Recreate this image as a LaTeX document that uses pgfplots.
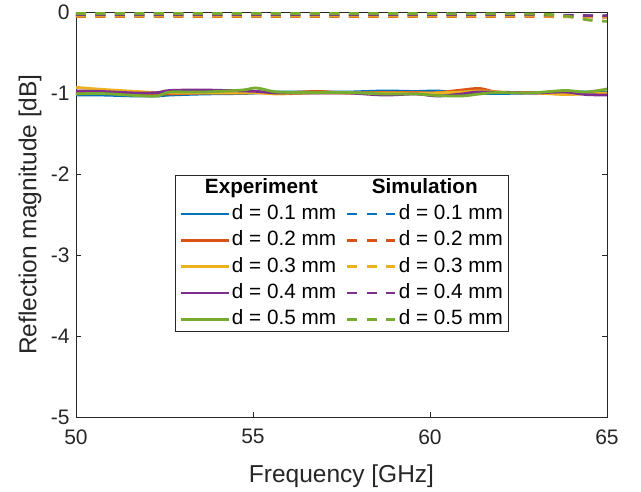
\documentclass[border=0pt]{standalone}
\usepackage{pgfplots}
\pgfplotsset{compat=1.18}
\usepackage{fontspec}
\setmainfont{Liberation Sans}
\definecolor{mblue}{rgb}{0,0.447,0.741}
\definecolor{morange}{rgb}{0.85,0.325,0.098}
\definecolor{myellow}{rgb}{0.929,0.694,0.125}
\definecolor{mpurple}{rgb}{0.494,0.184,0.556}
\definecolor{mgreen}{rgb}{0.466,0.674,0.188}
\definecolor{axgray}{rgb}{0.15,0.15,0.15}
\begin{document}
\begin{tikzpicture}
\useasboundingbox (-76pt,-74pt) rectangle (565pt,417pt);
\begin{axis}[
  at={(0,0)}, anchor=south west,
  scale only axis, width=531pt, height=405pt,
  xmin=50, xmax=65, ymin=-5, ymax=0,
  xtick={50,55,60,65}, ytick={-5,-4,-3,-2,-1,0},
  tick align=inside, major tick length=5pt,
  axis line style={axgray, line width=0.8pt},
  every tick/.style={axgray, line width=0.8pt},
  tick label style={font=\fontsize{21}{25}\selectfont, text=axgray},
  xticklabel style={yshift=-9pt},
  yticklabel style={xshift=-3pt},
  /pgf/number format/assume math mode=true,
  xlabel={Frequency [GHz]}, ylabel={Reflection magnitude [dB]},
  label style={font=\fontsize{24.5}{29}\selectfont, text=axgray},
  xlabel style={at={(axis description cs:0.5,-0.145)}, anchor=center},
  ylabel style={at={(axis description cs:-0.0866,0.5)}, anchor=center},
  legend columns=2,
  legend cell align=left,
  legend image code/.code={\path (0pt,0pt); \draw[#1] (1pt,0pt) -- (49pt,0pt);},
  legend style={at={(rel axis cs:0.186,0.598)}, anchor=north west,
    draw=axgray, line width=0.8pt, fill=white,
    font=\fontsize{20.7}{25}\selectfont, text=black,
    inner xsep=3pt, inner ysep=2pt,
    nodes={inner xsep=2pt, inner ysep=0pt, text height=16pt, text depth=5pt},
    row sep=5.3pt,
    /tikz/every even column/.append style={column sep=7pt}},
  every axis plot/.append style={line width=2.8pt, smooth, tension=0.5},
  sim/.style={dash pattern=on 10pt off 9.5pt},
]
\addlegendimage{empty legend}
\addlegendimage{empty legend}
% d = 0.1
\addplot[mblue] coordinates {(50,-1.025) (50.7,-1.025) (51.7,-1.037) (52.3,-1.037) (52.65,-1.025) (53.6,-1.012) (54.7,-1.006) (55.1,-1.0) (55.7,-0.988) (56.8,-0.988) (57.7,-0.988) (58.7,-0.975) (59.6,-0.981) (60.2,-0.975) (60.9,-1.0) (61.9,-1.006) (62.8,-1.0) (63.8,-0.995) (64.4,-0.988) (65,-0.994)};
\addplot[mblue, sim] coordinates {(50,-0.04) (52,-0.04) (54,-0.04) (56,-0.04) (58,-0.04) (60,-0.04) (62,-0.04) (63,-0.04) (64,-0.045) (65,-0.05)};
% d = 0.2
\addplot[morange] coordinates {(50,-1.0) (51,-1.005) (52,-1.015) (52.65,-1.012) (53.6,-1.0) (54.7,-1.0) (55.1,-0.988) (55.7,-1.0) (56.8,-0.981) (57.7,-1.0) (58.7,-0.994) (59.6,-0.994) (60.1,-1.0) (60.9,-0.963) (61.4,-0.944) (61.9,-0.988) (62.8,-0.995) (63.8,-1.012) (64.4,-1.006) (65,-1.012)};
\addplot[morange, sim] coordinates {(50,-0.055) (52,-0.055) (54,-0.055) (56,-0.055) (58,-0.055) (60,-0.055) (62,-0.055) (63,-0.055) (64,-0.06) (65,-0.065)};
% d = 0.3
\addplot[myellow] coordinates {(50,-0.930) (50.7,-0.954) (51.7,-0.981) (52.3,-0.994) (53,-1.0) (54,-1.0) (55.1,-1.0) (55.7,-1.012) (56.8,-1.0) (58,-1.0) (59,-1.0) (60,-1.0) (60.9,-0.988) (61.4,-0.975) (62,-0.99) (63,-1.0) (63.8,-1.019) (64.4,-1.01) (65,-1.0)};
\addplot[myellow, sim] coordinates {(50,-0.05) (52,-0.05) (54,-0.05) (56,-0.05) (58,-0.05) (60,-0.05) (62,-0.05) (63,-0.05) (64,-0.055) (65,-0.06)};
% d = 0.4
\addplot[mpurple] coordinates {(50,-0.975) (50.7,-0.981) (51.7,-1.0) (52.3,-0.995) (52.65,-0.969) (53.6,-0.963) (54.7,-0.975) (55.1,-0.98) (55.7,-1.0) (56.8,-1.0) (57.7,-1.0) (58.7,-1.025) (59.6,-1.012) (60.2,-1.037) (60.9,-1.012) (61.4,-0.988) (62.8,-1.0) (63.8,-0.988) (64.4,-1.019) (65,-1.025)};
\addplot[mpurple, sim] coordinates {(50,-0.035) (52,-0.035) (54,-0.035) (56,-0.035) (58,-0.035) (60,-0.035) (62,-0.035) (63,-0.035) (63.8,-0.04) (64.4,-0.045) (65,-0.045)};
% d = 0.5
\addplot[mgreen] coordinates {(50,-1.012) (50.7,-1.006) (51.7,-1.031) (52.3,-1.037) (52.65,-0.988) (53.6,-0.988) (54.7,-0.963) (55.1,-0.938) (55.7,-0.988) (56.8,-0.994) (57.7,-0.994) (58.7,-1.012) (59.6,-1.012) (60.2,-1.031) (60.9,-1.037) (61.4,-1.012) (61.9,-0.994) (62.8,-1.0) (63.8,-0.969) (64.4,-0.988) (65,-0.951)};
\addplot[mgreen, sim] coordinates {(50,-0.02) (52,-0.02) (54,-0.02) (56,-0.02) (58,-0.02) (60,-0.02) (62,-0.022) (63,-0.025) (63.5,-0.035) (64,-0.06) (64.5,-0.1) (65,-0.115)};
\legend{{\hspace*{-27pt}\textbf{Experiment}}, {\hspace*{-27pt}\textbf{Simulation}},
  d = 0.1 mm, d = 0.1 mm, d = 0.2 mm, d = 0.2 mm, d = 0.3 mm, d = 0.3 mm,
  d = 0.4 mm, d = 0.4 mm, d = 0.5 mm, d = 0.5 mm}
\end{axis}
\end{tikzpicture}
\end{document}
